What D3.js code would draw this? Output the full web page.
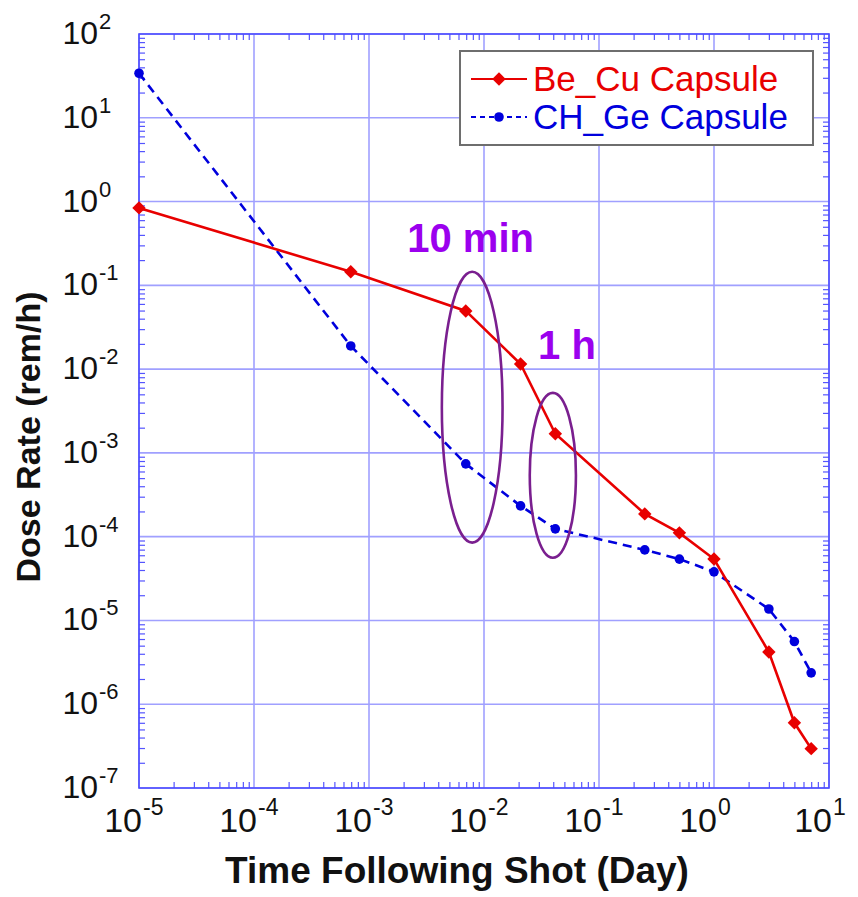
<!DOCTYPE html>
<html>
<head>
    <meta charset="utf-8">
    <title>Dose rate following shot</title>
    <script src="https://d3js.org/d3.v7.min.js"></script>
    <style type="text/css">
        body { margin: 0; background: #fff; }
        text { font-family: "Liberation Sans", Arial, sans-serif; }
        .axis path { display: none; }
        .minor line { stroke: #5555ff; stroke-width: 1.2; }
    </style>
</head>
<body>
<script type="text/javascript">
    // time after shot (days): 10 s, 1 min, 10 min, 30 min, 1 h, 6 h, 12 h, 1 d, 3 d, 5 d, 7 d
    const times = [1e-5, 6.94e-4, 6.94e-3, 2.08e-2, 4.17e-2, 0.25, 0.5, 1, 3, 5, 7];
    const beCu = [0.84, 0.145, 0.0495, 0.0115, 0.00169, 1.87e-4, 1.11e-4, 5.4e-5, 4.2e-6, 6.0e-7, 2.95e-7];
    const chGe = [34, 0.0189, 7.4e-4, 2.33e-4, 1.24e-4, 6.95e-5, 5.4e-5, 3.8e-5, 1.37e-5, 5.6e-6, 2.37e-6];
    const seriesNames = ["Be_Cu Capsule", "CH_Ge Capsule"];

    const xExponents = [-5, -4, -3, -2, -1, 0, 1];
    const yExponents = [2, 1, 0, -1, -2, -3, -4, -5, -6, -7];

    // annotation ellipses: [x left, x right, y top, y bottom] in data units
    const ellipses = [
        [4.3e-3, 1.45e-2, 0.145, 8.5e-5],
        [2.5e-2, 6.3e-2, 5.2e-3, 5.6e-5]
    ];
    const noteLabels = ["10 min", "1 h"];
    const notePos = [[2.15e-3, 0.25], [2.95e-2, 1.33e-2]];

    const W = 858, H = 897;
    const svg = d3.select("body").append("svg")
        .attr("width", W)
        .attr("height", H);

    const x = d3.scaleLog().domain([1e-5, 10]).range([139, 829]);
    const y = d3.scaleLog().domain([1e-7, 100]).range([788, 34]);

    const decadesX = xExponents.map(e => Math.pow(10, e));
    const decadesY = yExponents.map(e => Math.pow(10, e));
    let minorX = [], minorY = [];
    xExponents.slice(0, -1).forEach(e => { for (let k = 2; k < 10; k++) minorX.push(k * Math.pow(10, e)); });
    yExponents.slice(1).forEach(e => { for (let k = 2; k < 10; k++) minorY.push(k * Math.pow(10, e)); });

    // grid
    const grid = svg.append("g").attr("class", "grid");
    grid.selectAll("line.gx").data(decadesX).join("line")
        .attr("x1", d => x(d)).attr("x2", d => x(d))
        .attr("y1", y.range()[1]).attr("y2", y.range()[0])
        .attr("stroke", "#a0a0ff").attr("stroke-width", 1.6);
    grid.selectAll("line.gy").data(decadesY).join("line")
        .attr("y1", d => y(d)).attr("y2", d => y(d))
        .attr("x1", x.range()[0]).attr("x2", x.range()[1])
        .attr("stroke", "#a0a0ff").attr("stroke-width", 1.6);

    // minor ticks on all four sides, pointing inward
    const [x0, x1] = x.range(), [y1, y0] = y.range();
    svg.append("g").attr("class", "axis minor").attr("transform", `translate(0,${y1})`)
        .call(d3.axisBottom(x).tickValues(minorX).tickSize(-6).tickFormat(""));
    svg.append("g").attr("class", "axis minor").attr("transform", `translate(0,${y0})`)
        .call(d3.axisTop(x).tickValues(minorX).tickSize(-6).tickFormat(""));
    svg.append("g").attr("class", "axis minor").attr("transform", `translate(${x0},0)`)
        .call(d3.axisLeft(y).tickValues(minorY).tickSize(-6).tickFormat(""));
    svg.append("g").attr("class", "axis minor").attr("transform", `translate(${x1},0)`)
        .call(d3.axisRight(y).tickValues(minorY).tickSize(-6).tickFormat(""));

    // frame
    svg.append("rect")
        .attr("x", x0).attr("y", y0)
        .attr("width", x1 - x0).attr("height", y1 - y0)
        .attr("fill", "none").attr("stroke", "#4d4dff").attr("stroke-width", 1.6);

    // tick labels as 10^n
    svg.append("g").selectAll("text").data(xExponents).join("text")
        .attr("x", d => x(Math.pow(10, d)) + 3)
        .attr("y", 832)
        .attr("font-size", 34)
        .attr("fill", "#111")
        .attr("text-anchor", "end")
        .text("10");
    svg.append("g").selectAll("text").data(xExponents).join("text")
        .attr("x", d => x(Math.pow(10, d)) + 4)
        .attr("y", 815)
        .attr("font-size", 23)
        .attr("fill", "#111")
        .text(d => d);

    svg.append("g").selectAll("text").data(yExponents).join("text")
        .attr("x", 98)
        .attr("y", d => y(Math.pow(10, d)) + 10)
        .attr("font-size", 32)
        .attr("fill", "#111")
        .attr("text-anchor", "end")
        .text("10");
    svg.append("g").selectAll("text").data(yExponents).join("text")
        .attr("x", 99)
        .attr("y", d => y(Math.pow(10, d)) - 5)
        .attr("font-size", 22)
        .attr("fill", "#111")
        .text(d => d);

    // axis titles
    svg.append("text")
        .attr("x", 457).attr("y", 883)
        .attr("text-anchor", "middle")
        .attr("font-size", 37).attr("font-weight", "bold")
        .attr("fill", "#111")
        .text("Time Following Shot (Day)");
    svg.append("text")
        .attr("transform", "translate(40,437) rotate(-90)")
        .attr("text-anchor", "middle")
        .attr("font-size", 34).attr("font-weight", "bold")
        .attr("fill", "#111")
        .text("Dose Rate (rem/h)");

    // series
    const line = d3.line().x(d => x(d[0])).y(d => y(d[1]));
    const red = "#e80000", blue = "#0000dd";
    const redPts = times.map((t, i) => [t, beCu[i]]);
    const bluePts = times.map((t, i) => [t, chGe[i]]);

    svg.append("path").datum(bluePts)
        .attr("d", line).attr("fill", "none")
        .attr("stroke", blue).attr("stroke-width", 2.6)
        .attr("stroke-dasharray", "9,6");
    svg.append("path").datum(redPts)
        .attr("d", line).attr("fill", "none")
        .attr("stroke", red).attr("stroke-width", 2.6);

    const diamond = d3.symbol().type(d3.symbolDiamond2).size(115);
    svg.append("g").selectAll("path").data(redPts).join("path")
        .attr("d", diamond)
        .attr("transform", d => `translate(${x(d[0])},${y(d[1])})`)
        .attr("fill", red);
    svg.append("g").selectAll("circle").data(bluePts).join("circle")
        .attr("cx", d => x(d[0])).attr("cy", d => y(d[1]))
        .attr("r", 4.8).attr("fill", blue);

    // annotations
    svg.append("g").selectAll("ellipse").data(ellipses).join("ellipse")
        .attr("cx", d => (x(d[0]) + x(d[1])) / 2)
        .attr("cy", d => (y(d[2]) + y(d[3])) / 2)
        .attr("rx", d => (x(d[1]) - x(d[0])) / 2)
        .attr("ry", d => (y(d[3]) - y(d[2])) / 2)
        .attr("fill", "none")
        .attr("stroke", "#7a1f8f").attr("stroke-width", 2.6);
    svg.append("g").selectAll("text").data(noteLabels).join("text")
        .attr("x", (d, i) => x(notePos[i][0]))
        .attr("y", (d, i) => y(notePos[i][1]))
        .attr("font-size", 40).attr("font-weight", "bold")
        .attr("fill", "#9b00ee")
        .text(d => d);

    // legend
    const lg = svg.append("g");
    lg.append("rect")
        .attr("x", 460).attr("y", 51).attr("width", 353).attr("height", 94)
        .attr("fill", "#fff").attr("stroke", "#6e6e6e").attr("stroke-width", 2);
    const legendRows = [
        { name: seriesNames[0], color: red, dash: null, yy: 79 },
        { name: seriesNames[1], color: blue, dash: "5,4", yy: 117 }
    ];
    legendRows.forEach((r, i) => {
        lg.append("line")
            .attr("x1", 471).attr("x2", 527).attr("y1", r.yy).attr("y2", r.yy)
            .attr("stroke", r.color).attr("stroke-width", 2)
            .attr("stroke-dasharray", r.dash);
        if (i === 0) {
            lg.append("path").attr("d", diamond)
                .attr("transform", `translate(499,${r.yy})`).attr("fill", r.color);
        } else {
            lg.append("circle").attr("cx", 499).attr("cy", r.yy).attr("r", 4.8).attr("fill", r.color);
        }
        lg.append("text")
            .attr("x", 533).attr("y", r.yy + 12)
            .attr("font-size", 35)
            .attr("fill", r.color)
            .text(r.name);
    });
</script>
</body>
</html>
